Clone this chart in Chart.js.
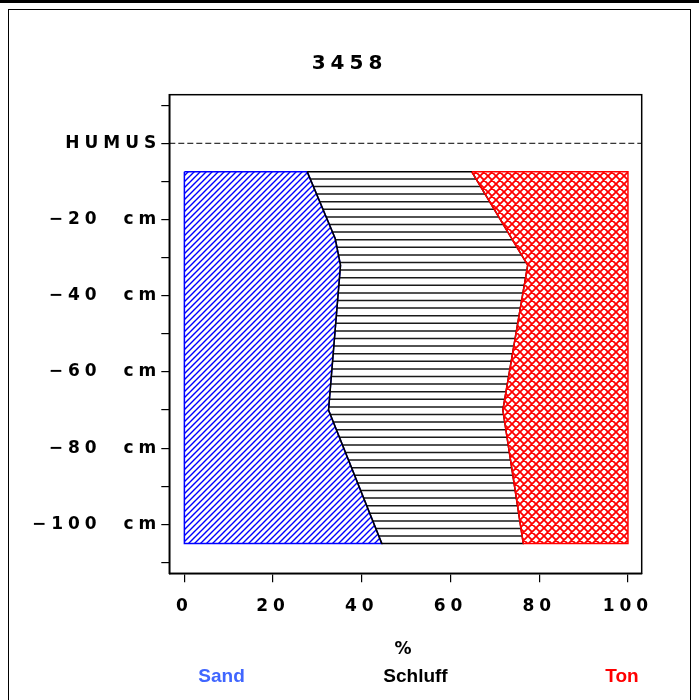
<!DOCTYPE html>
<html>
<head>
<meta charset="utf-8">
<script src="https://cdn.jsdelivr.net/npm/chart.js@4/dist/chart.umd.min.js"></script>
<style>
  html, body { margin: 0; padding: 0; background: #fff; }
  #wrap { position: relative; width: 699px; height: 700px; }
</style>
</head>
<body>
<div id="wrap"><canvas id="profil"></canvas></div>
<script>
// Korngrößen je Tiefe (cm unter Humus), Anteile in %
const depths  = [-7.5, -25, -32, -70, -105]
const sand    = [27.7, 34.0, 35.2, 32.5, 44.5]
const schluff = [37.1, 39.8, 42.2, 39.3, 31.9]
const ton     = [35.2, 26.2, 22.6, 28.2, 23.6]

const profilName = "3458"
const layerNames = ["Sand", "Schluff", "Ton"]
const xTicks = [0, 20, 40, 60, 80, 100]
const yTicks = [-110, -100, -90, -80, -70, -60, -50, -40, -30, -20, -10, 0, 10]
const yTickLabels = ["", "−100  cm", "", "−80  cm", "", "−60  cm", "", "−40  cm", "", "−20  cm", "", "HUMUS", ""]

const AXIS_FONT = "'DejaVu Sans', sans-serif"
const LABEL_FONT = "'Liberation Sans', Arial, sans-serif"
const SPACING = "5px"

// kumulierte Grenzen
const zero = depths.map(() => 0)
const sandTop = sand.slice()
const schluffTop = sand.map((v, i) => v + schluff[i])
const tonTop = schluffTop.map((v, i) => v + ton[i])

// geschlossenes Polygon: linke Grenze runter, rechte Grenze rauf
function band(lo, hi) {
  const pts = depths.map((d, i) => ({ x: lo[i], y: d }))
  for (let i = depths.length - 1; i >= 0; i--) pts.push({ x: hi[i], y: depths[i] })
  pts.push(pts[0])
  return pts
}

function pattern(w, h, paint) {
  const c = document.createElement("canvas")
  c.width = w
  c.height = h
  const g = c.getContext("2d")
  paint(g, w, h)
  return g.createPattern(c, "repeat")
}

function slash(g, s) {
  g.moveTo(0, s); g.lineTo(s, 0)
  g.moveTo(-1, 1); g.lineTo(1, -1)
  g.moveTo(s - 1, s + 1); g.lineTo(s + 1, s - 1)
}
function backslash(g, s) {
  g.moveTo(0, 0); g.lineTo(s, s)
  g.moveTo(-1, s - 1); g.lineTo(1, s + 1)
  g.moveTo(s - 1, -1); g.lineTo(s + 1, 1)
}

const sandFill = pattern(6, 6, (g, s) => {
  g.strokeStyle = "#0000ff"
  g.lineWidth = 1.4
  g.beginPath(); slash(g, s); g.stroke()
})
const schluffFill = pattern(8, 38, g => {
  g.strokeStyle = "#1a1a1a"
  g.lineWidth = 1.5
  g.beginPath()
  for (const y of [4.1, 11.7, 19.3, 26.9, 34.5]) { g.moveTo(0, y); g.lineTo(8, y) }
  g.stroke()
})
const tonFill = pattern(8, 8, (g, s) => {
  g.strokeStyle = "#ff0000"
  g.lineWidth = 1.8
  g.beginPath(); slash(g, s); backslash(g, s); g.stroke()
})

const layerStyle = { fill: "shape", borderWidth: 1.5, pointRadius: 0, tension: 0 }

const frame = {
  id: "frame",
  beforeUpdate(chart) { chart.ctx.letterSpacing = SPACING },
  beforeDraw(chart) {
    const c = chart.ctx
    c.letterSpacing = SPACING
    c.save()
    c.fillStyle = "#fff"
    c.fillRect(0, 0, chart.width, chart.height)
    c.fillStyle = "#000"
    c.fillRect(0, 0, chart.width, 3)
    c.strokeStyle = "#000"
    c.lineWidth = 1
    c.strokeRect(8.5, 9.5, chart.width - 17, chart.height + 10)
    // Profilnummer
    c.font = "bold 20px " + AXIS_FONT
    c.textAlign = "center"
    c.textBaseline = "alphabetic"
    c.fillText(profilName, chart.width / 2, 69)
    c.restore()
  },
  afterDatasetsDraw(chart) {
    const { ctx: c, chartArea: a, scales } = chart
    const y0 = scales.y.getPixelForValue(0)
    c.save()
    c.strokeStyle = "#000"
    c.lineWidth = 1
    c.setLineDash([6, 3])
    c.beginPath()
    c.moveTo(a.left, y0)
    c.lineTo(a.right, y0)
    c.stroke()
    c.setLineDash([])
    c.lineWidth = 1.5
    c.strokeRect(a.left, a.top, a.right - a.left, a.bottom - a.top)
    c.restore()
  },
  afterDraw(chart) {
    const { ctx: c, chartArea: a } = chart
    c.save()
    c.letterSpacing = "0px"
    c.font = "bold 19px " + LABEL_FONT
    c.textBaseline = "alphabetic"
    const y = 682
    c.fillStyle = "rgb(64, 102, 255)"
    c.textAlign = "left"
    c.fillText(layerNames[0], a.left + 29, y)
    c.fillStyle = "#000"
    c.textAlign = "center"
    c.fillText(layerNames[1], (a.left + a.right) / 2 + 10, y)
    c.fillStyle = "#ff0000"
    c.textAlign = "right"
    c.fillText(layerNames[2], a.right - 3, y)
    c.restore()
  }
}

const tickFont = { family: AXIS_FONT, size: 17, weight: "bold" }

new Chart(document.getElementById("profil"), {
  type: "line",
  data: {
    datasets: [
      { label: layerNames[2], data: band(schluffTop, tonTop), backgroundColor: tonFill, borderColor: "#ff0000", order: 1, ...layerStyle },
      { label: layerNames[1], data: band(sandTop, schluffTop), backgroundColor: schluffFill, borderColor: "#000", order: 2, ...layerStyle },
      { label: layerNames[0], data: band(zero, sandTop), backgroundColor: sandFill, borderColor: "#0000ff", order: 3, ...layerStyle }
    ]
  },
  options: {
    responsive: true,
    maintainAspectRatio: false,
    animation: false,
    events: [],
    layout: { padding: { left: 0, right: 57.3, top: 94.7, bottom: 0 } },
    plugins: {
      legend: { display: false },
      tooltip: { enabled: false },
      title: { display: false }
    },
    scales: {
      x: {
        type: "linear",
        min: -3.4,
        max: 103.1,
        afterBuildTicks: s => { s.ticks = xTicks.map(v => ({ value: v })) },
        afterFit: s => { s.height = 126.7 },
        ticks: { color: "#000", padding: 14, autoSkip: false, maxRotation: 0, font: tickFont },
        grid: { drawOnChartArea: false, tickLength: 9, color: "#000", lineWidth: 1.2 },
        border: { color: "#000", width: 1.5 },
        title: { display: true, text: "%", color: "#000", font: { family: AXIS_FONT, size: 17, weight: "bold" }, padding: { top: 0, bottom: 40 } }
      },
      y: {
        type: "linear",
        min: -112.85,
        max: 12.75,
        afterBuildTicks: s => { s.ticks = yTicks.map(v => ({ value: v })) },
        afterFit: s => { s.width = 169.3 },
        ticks: {
          color: "#000",
          padding: 0,
          autoSkip: false,
          font: tickFont,
          callback: (v, i) => yTickLabels[i]
        },
        grid: { drawOnChartArea: false, tickLength: 8, color: "#000", lineWidth: 1.2 },
        border: { color: "#000", width: 1.5 }
      }
    }
  },
  plugins: [frame]
})
</script>
</body>
</html>
